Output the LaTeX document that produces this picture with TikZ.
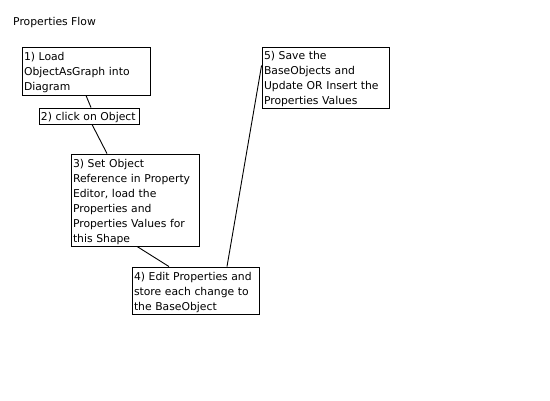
\documentclass[tikz,border=0pt]{standalone}
\usepackage{fontspec}
\setmainfont{DejaVu Sans}
\begin{document}
\begin{tikzpicture}[x=1pt,y=-1pt,
  stepbox/.style={draw=black, line width=0.9pt, rectangle, inner xsep=1.5pt, inner ysep=0pt,
    align=left, font=\fontsize{10.8}{15}\selectfont,
    execute at begin node={\rule{0pt}{12pt}}},
  conn/.style={draw=black, line width=0.9pt}]
\useasboundingbox[fill=white] (0,0) rectangle (550,400);
\node[anchor=west, font=\fontsize{10.8}{15}\selectfont, inner sep=0pt] (title) at (13,23) {Properties Flow};
\node[stepbox, minimum width=128pt, minimum height=48pt, text width=124pt] (b1) at (86,71)
  {1) Load\\ObjectAsGraph into\\Diagram};
\node[stepbox, minimum width=100pt, minimum height=16pt, text width=96pt] (b2) at (89,116)
  {2) click on Object};
\node[stepbox, minimum width=128pt, minimum height=92pt, text width=124pt] (b3) at (135,200)
  {3) Set Object\\Reference in Property\\Editor, load the\\Properties and\\Properties Values for\\this Shape};
\node[stepbox, minimum width=127pt, minimum height=47pt, text width=123pt] (b4) at (195.5,290.5)
  {4) Edit Properties and\\store each change to\\the BaseObject};
\node[stepbox, minimum width=127pt, minimum height=61pt, text width=123pt] (b5) at (325.5,77.5)
  {5) Save the\\BaseObjects and\\Update OR Insert the\\Properties Values};
\draw[conn] (b1.south) -- ([xshift=2pt]b2.north);
\draw[conn] ([xshift=3pt]b2.south) -- ([xshift=-28pt]b3.north);
\draw[conn] ([xshift=2pt]b3.south) -- ([xshift=-26.5pt]b4.north);
\draw[conn] ([xshift=31.5pt]b4.north) -- ([yshift=12pt]b5.west);
\end{tikzpicture}
\end{document}
